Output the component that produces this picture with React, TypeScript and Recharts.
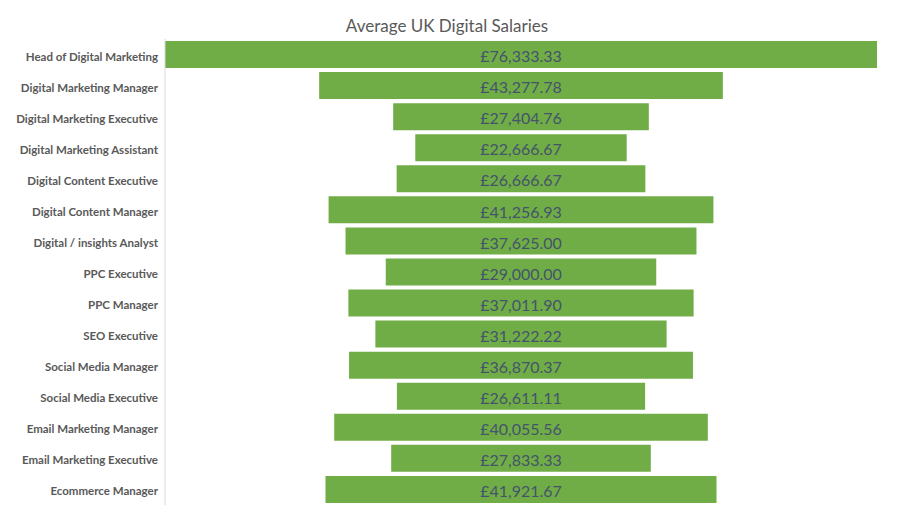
import React from 'react'
import { BarChart, Bar, XAxis, YAxis, LabelList } from 'recharts'

const roles = [
  'Head of Digital Marketing',
  'Digital Marketing Manager',
  'Digital Marketing Executive',
  'Digital Marketing Assistant',
  'Digital Content Executive',
  'Digital Content Manager',
  'Digital / insights Analyst',
  'PPC Executive',
  'PPC Manager',
  'SEO Executive',
  'Social Media Manager',
  'Social Media Executive',
  'Email Marketing Manager',
  'Email Marketing Executive',
  'Ecommerce Manager',
]

const salaries = [
  76333.33, 43277.78, 27404.76, 22666.67, 26666.67, 41256.93, 37625.0,
  29000.0, 37011.9, 31222.22, 36870.37, 26611.11, 40055.56, 27833.33,
  41921.67,
]

const maxSalary = Math.max(...salaries)

// invisible spacer bar pushes each salary bar to the middle (funnel look)
const data = roles.map((role, i) => ({
  role,
  spacer: (maxSalary - salaries[i]) / 2,
  salary: salaries[i],
}))

const formatGBP = (v: number) =>
  '£' +
  Number(v).toLocaleString('en-GB', {
    minimumFractionDigits: 2,
    maximumFractionDigits: 2,
  })

// single-line tick so long role names don't wrap
const RoleTick = (props: any) => {
  const { x, y, payload } = props
  return (
    <text
      x={x}
      y={y}
      dy={6}
      textAnchor="end"
      fontSize={11.5}
      fontWeight={700}
      fill="#595959"
    >
      {payload.value}
    </text>
  )
}

const App: React.FC = () => {
  return (
    <div
      style={{
        position: 'absolute',
        left: 0,
        top: 0,
        width: 916,
        height: 527,
        background: '#fff',
        fontFamily: 'Lato, sans-serif',
      }}
    >
      <div
        style={{
          position: 'absolute',
          top: 15,
          left: 0,
          width: 894,
          textAlign: 'center',
          fontSize: 17,
          color: '#595959',
        }}
      >
        Average UK Digital Salaries
      </div>
      <BarChart
        width={916}
        height={527}
        data={data}
        layout="vertical"
        margin={{ top: 39, right: 39, bottom: 22, left: 0 }}
        barCategoryGap={2}
      >
        <XAxis type="number" domain={[0, maxSalary]} hide />
        <YAxis
          type="category"
          dataKey="role"
          width={165}
          tickLine={false}
          tickSize={6}
          tickMargin={1}
          axisLine={{ stroke: '#d9d9d9' }}
          tick={<RoleTick />}
          interval={0}
        />
        <Bar
          dataKey="spacer"
          stackId="funnel"
          fill="transparent"
          isAnimationActive={false}
        />
        <Bar
          dataKey="salary"
          stackId="funnel"
          fill="#70ad47"
          isAnimationActive={false}
        >
          <LabelList
            dataKey="salary"
            position="center"
            formatter={(v: any) => formatGBP(v)}
            style={{ fontSize: 16, fill: '#44546a' }}
            dy={2}
          />
        </Bar>
      </BarChart>
    </div>
  )
}

export default App
